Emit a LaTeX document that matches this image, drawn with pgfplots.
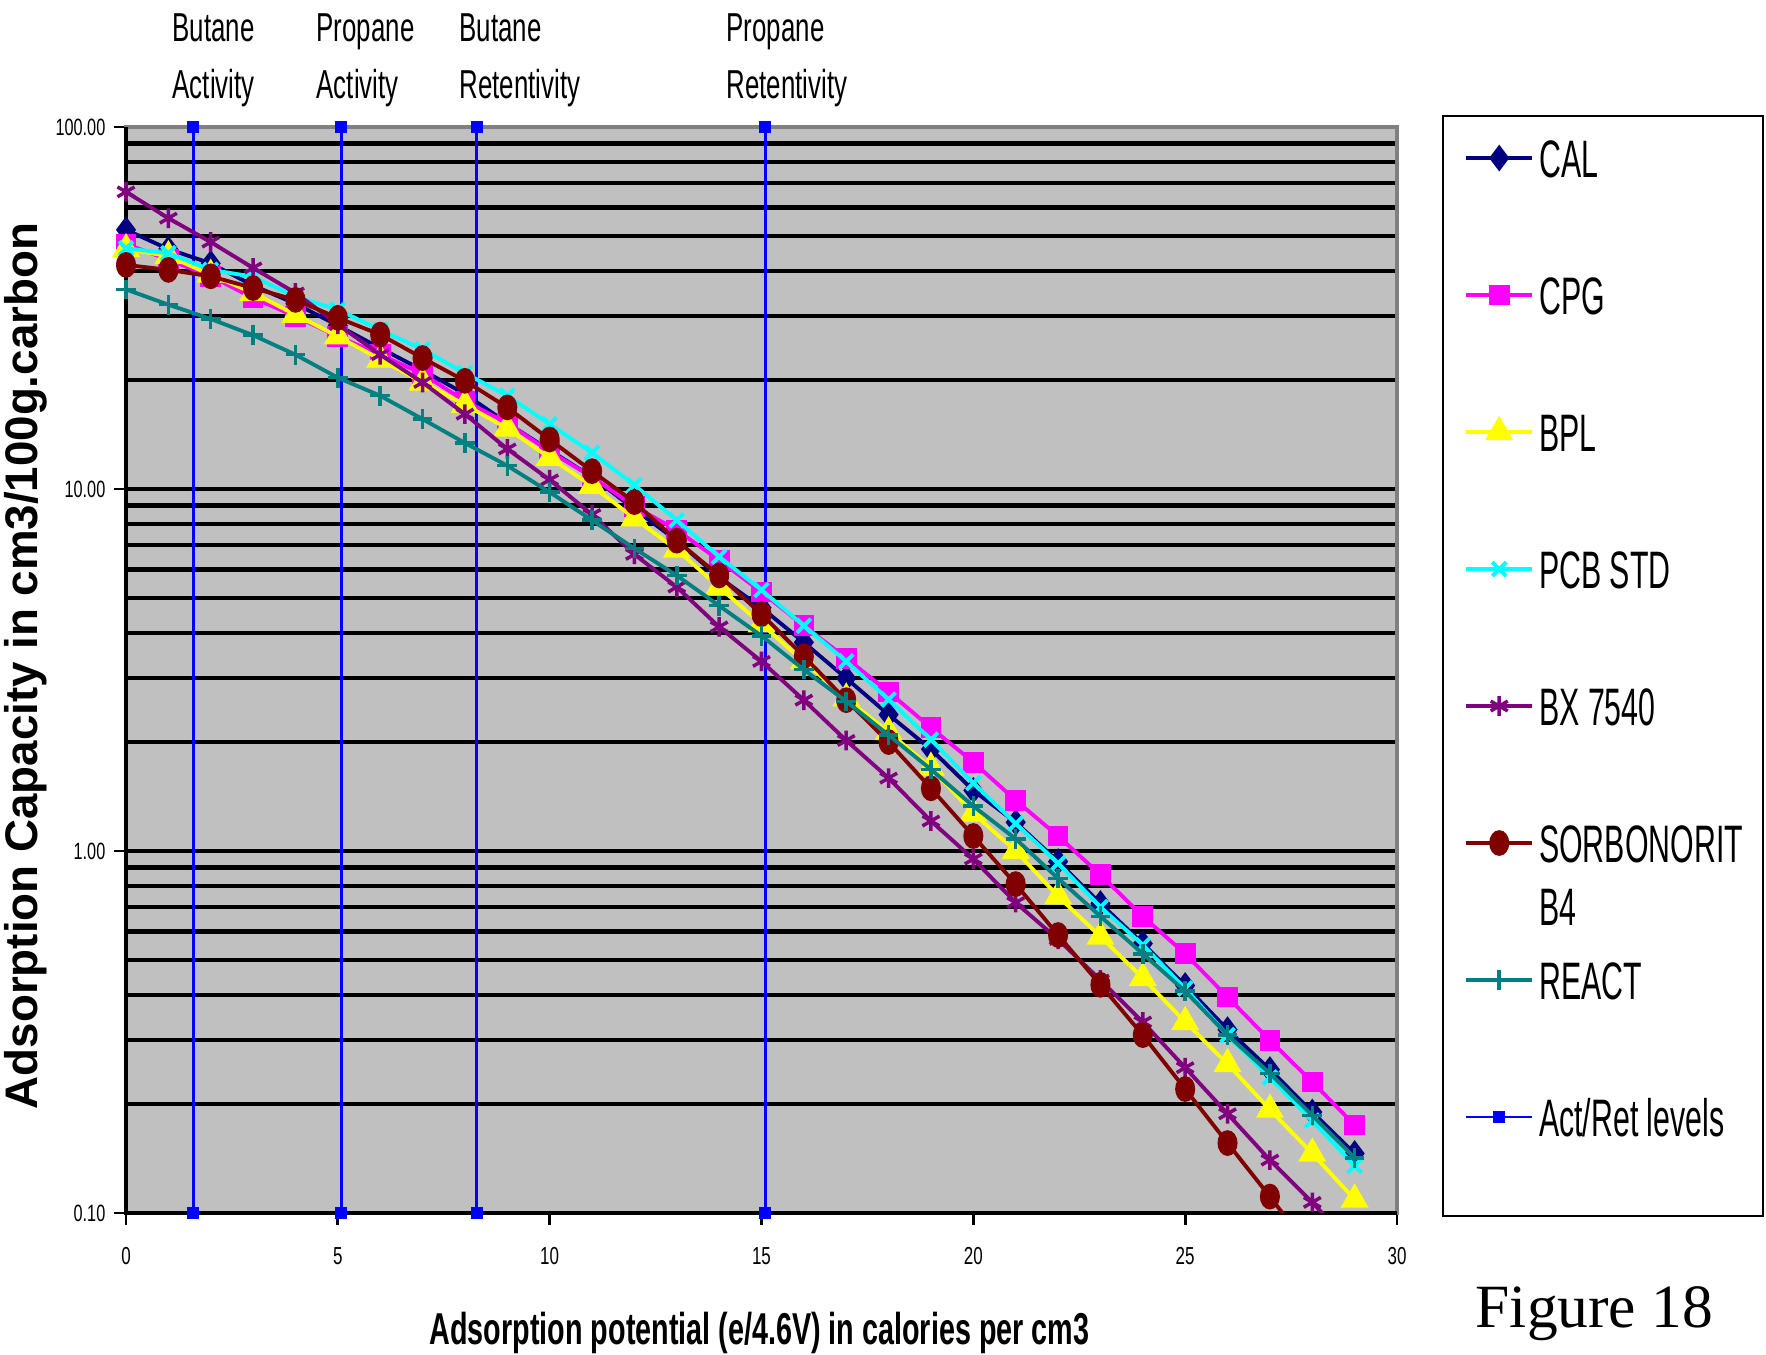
\documentclass[border=0pt]{standalone}
\usepackage{fontspec}
\setmainfont{Liberation Sans}
\newfontfamily\topfont[FakeStretch=0.64]{Liberation Sans}
\newfontfamily\legfont[FakeStretch=0.575]{Liberation Sans}
\newfontfamily\tickfont[FakeStretch=0.69]{Liberation Sans}
\newfontfamily\xlabfont[FakeStretch=0.644]{Liberation Sans}
\newfontfamily\figfont{Liberation Serif}
\usepackage{pgfplots}
\pgfplotsset{compat=1.18}
\definecolor{xlgray}{HTML}{C0C0C0}
\definecolor{xlnavy}{HTML}{000080}
\definecolor{xlmag}{HTML}{FF00FF}
\definecolor{xlyel}{HTML}{FFFF00}
\definecolor{xlcyan}{HTML}{00FFFF}
\definecolor{xlpurp}{HTML}{800080}
\definecolor{xlmaroon}{HTML}{800000}
\definecolor{xlteal}{HTML}{008080}
\definecolor{xlblue}{HTML}{0000FF}
\begin{document}
\begin{tikzpicture}
\path[use as bounding box] (-1.26,-1.42) rectangle (16.40,12.13);
\begin{axis}[
  width=12.71cm, height=10.86cm, scale only axis,
  xmin=0, xmax=30, ymode=log, ymin=0.1, ymax=100,
  xtick={0,5,...,30}, xtick pos=bottom, ytick pos=left,
  ytick={0.1,1,10,100}, yticklabels={0.10,1.00,10.00,100.00},
  minor ytick={0.2,0.3,0.4,0.5,0.6,0.7,0.8,0.9,1,2,3,4,5,6,7,8,9,10,20,30,40,50,60,70,80,90},
  yminorgrids, minor grid style={black, line width=1.25pt},
  tick align=outside, major tick length=0.12cm, minor tick length=0pt,
  tick style={black, line width=0.8pt},
  axis line style={draw=gray, line width=1.3pt},
  axis background/.style={fill=xlgray},
  /pgf/number format/assume math mode=true,
  xticklabel style={font=\tickfont\fontsize{7}{8}\selectfont, inner sep=0pt, yshift=-0.22cm},
  yticklabel style={font=\tickfont\fontsize{6.7}{8}\selectfont, inner sep=0pt, xshift=-0.08cm},
  clip mode=individual,
  legend style={draw=none, fill=none,
    at={(axis description cs:1.0441,0.9965)}, anchor=north west,
    font=\legfont\fontsize{15}{16}\selectfont,
    row sep=0.98cm, column sep=0.05cm,
    nodes={inner sep=0pt, text height=0.39cm, text depth=0pt},
  },
  legend cell align=left,
  legend image code/.code={\draw[mark repeat=2,mark phase=2] plot coordinates {(0cm,0cm) (0.33cm,0cm) (0.66cm,0cm)};},
  every axis plot/.append style={line width=1.1pt},
]
\draw[black, line width=1.2pt] (rel axis cs:0,1) -- (rel axis cs:0,0) -- (rel axis cs:1,0);
% Act/Ret levels
\addplot[xlblue, line width=0.75pt, mark=square*, mark size=1.3pt, clip=false, forget plot] coordinates {(1.59,0.1) (1.59,100)};
\addplot[xlblue, line width=0.75pt, mark=square*, mark size=1.3pt, clip=false, forget plot] coordinates {(5.08,0.1) (5.08,100)};
\addplot[xlblue, line width=0.75pt, mark=square*, mark size=1.3pt, clip=false, forget plot] coordinates {(8.28,0.1) (8.28,100)};
\addplot[xlblue, line width=0.75pt, mark=square*, mark size=1.3pt, clip=false, forget plot] coordinates {(15.09,0.1) (15.09,100)};
% CAL
\addplot[xlnavy, mark=diamond*, mark size=2.9pt] coordinates {
(0,52) (1,46) (2,42) (3,36.5) (4,32.5) (5,28.3) (6,24.5) (7,21.3) (8,18.3) (9,15.2)
(10,12.8) (11,10.8) (12,8.8) (13,7.2) (14,5.7) (15,4.7) (16,3.77) (17,3.0) (18,2.38) (19,1.91)
(20,1.47) (21,1.20) (22,0.935) (23,0.716) (24,0.555) (25,0.425) (26,0.321) (27,0.249) (28,0.19) (29,0.146)};
\addlegendentry{CAL}
% CPG
\addplot[xlmag, mark=square*, mark size=2.4pt] coordinates {
(0,47.5) (1,43) (2,38.7) (3,33.7) (4,30) (5,26.4) (6,23.5) (7,20.8) (8,17.5) (9,15.2)
(10,12.7) (11,10.8) (12,8.95) (13,7.7) (14,6.36) (15,5.19) (16,4.19) (17,3.41) (18,2.75) (19,2.19)
(20,1.76) (21,1.38) (22,1.10) (23,0.86) (24,0.66) (25,0.52) (26,0.395) (27,0.30) (28,0.23) (29,0.175)};
\addlegendentry{CPG}
% BPL
\addplot[xlyel, mark=triangle*, mark size=3.5pt] coordinates {
(0,46) (1,44) (2,39.1) (3,34.8) (4,30.3) (5,26.4) (6,22.8) (7,19.7) (8,17.1) (9,14.7)
(10,12.2) (11,10.2) (12,8.3) (13,6.8) (14,5.36) (15,4.23) (16,3.34) (17,2.64) (18,2.13) (19,1.70)
(20,1.27) (21,1.0) (22,0.75) (23,0.58) (24,0.446) (25,0.337) (26,0.258) (27,0.193) (28,0.146) (29,0.109)};
\addlegendentry{BPL}
% PCB STD
\addplot[xlcyan, mark=x, mark size=2.8pt, mark options={line width=1.1pt}] coordinates {
(0,46.2) (1,44.8) (2,40.3) (3,38.6) (4,34) (5,31.3) (6,27.5) (7,24.3) (8,20.9) (9,18.1)
(10,15.1) (11,12.6) (12,10.25) (13,8.2) (14,6.5) (15,5.26) (16,4.19) (17,3.34) (18,2.62) (19,2.03)
(20,1.54) (21,1.19) (22,0.925) (23,0.70) (24,0.55) (25,0.417) (26,0.31) (27,0.237) (28,0.18) (29,0.135)};
\addlegendentry{PCB STD}
% BX 7540
\addplot[xlpurp, mark=asterisk, mark size=2.8pt, mark options={line width=1pt}] coordinates {
(0,66.2) (1,56) (2,48.1) (3,40.8) (4,34.8) (5,28.5) (6,23.5) (7,19.7) (8,16.1) (9,12.9)
(10,10.6) (11,8.5) (12,6.6) (13,5.36) (14,4.16) (15,3.34) (16,2.61) (17,2.02) (18,1.59) (19,1.21)
(20,0.95) (21,0.72) (22,0.57) (23,0.44) (24,0.337) (25,0.252) (26,0.188) (27,0.14) (28,0.107) (29,0.08)};
\addlegendentry{BX 7540}
% SORBONORIT B4
\addplot[xlmaroon, mark=*, mark size=2.3pt, mark options={yscale=1.35}] coordinates {
(0,41.6) (1,40.3) (2,38.7) (3,35.9) (4,33.3) (5,29.7) (6,26.7) (7,23.0) (8,19.9) (9,16.8)
(10,13.7) (11,11.2) (12,9.2) (13,7.2) (14,5.77) (15,4.51) (16,3.45) (17,2.61) (18,2.0) (19,1.49)
(20,1.10) (21,0.81) (22,0.586) (23,0.427) (24,0.31) (25,0.22) (26,0.156) (27,0.111) (28,0.078)};
\addlegendentry{\begin{tabular}[t]{@{}l@{}}SORBONORIT\\[2pt]B4\end{tabular}}
% REACT
\addplot[xlteal, mark=+, mark size=2.8pt, mark options={line width=1pt}] coordinates {
(0,35.6) (1,32.3) (2,29.5) (3,26.6) (4,23.5) (5,20.3) (6,18.1) (7,15.6) (8,13.4) (9,11.6)
(10,9.8) (11,8.2) (12,6.85) (13,5.77) (14,4.76) (15,3.93) (16,3.17) (17,2.59) (18,2.09) (19,1.68)
(20,1.33) (21,1.08) (22,0.84) (23,0.66) (24,0.52) (25,0.41) (26,0.31) (27,0.243) (28,0.186) (29,0.142)};
\addlegendentry{REACT}
\addlegendimage{xlblue, line width=0.75pt, mark=square*, mark size=1.3pt}
\addlegendentry{Act/Ret levels}
\end{axis}
% legend frame
\draw[black, line width=0.8pt] (13.17,-0.03) rectangle (16.37,10.97);
% top labels
\begin{scope}[every node/.style={inner sep=0pt, anchor=base west, font=\topfont\fontsize{11.5}{12}\selectfont}]
\node at (0.46,11.71) {Butane};   \node at (0.46,11.14) {Activity};
\node at (1.90,11.71) {Propane};  \node at (1.90,11.14) {Activity};
\node at (3.33,11.71) {Butane};   \node at (3.33,11.14) {Retentivity};
\node at (6.00,11.71) {Propane};  \node at (6.00,11.14) {Retentivity};
\end{scope}
% axis titles
\node[inner sep=0pt, anchor=base, font=\xlabfont\bfseries\fontsize{12.7}{14}\selectfont] at (6.335,-1.32) {Adsorption potential (e/4.6V) in calories per cm3};
\node[inner sep=0pt, rotate=90, font=\bfseries\fontsize{13}{14}\selectfont] at (-1.0,5.47) {Adsorption Capacity in cm3/100g.carbon};
\node[inner sep=0pt, anchor=base west, font=\figfont\fontsize{17.5}{20}\selectfont] at (13.49,-1.15) {Figure 18};
\end{tikzpicture}
\end{document}
